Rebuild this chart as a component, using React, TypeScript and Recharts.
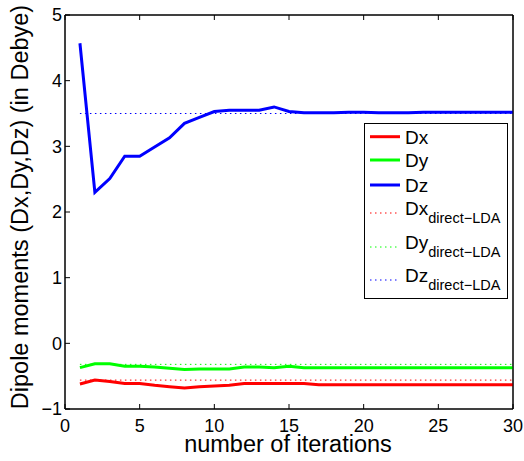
import React from "react";
import { LineChart, Line, XAxis, YAxis, Legend, ReferenceArea } from "recharts";

const iterations = [1, 2, 3, 4, 5, 6, 7, 8, 9, 10, 11, 12, 13, 14, 15, 16, 17, 18, 19, 20, 21, 22, 23, 24, 25, 26, 27, 28, 29, 30];
const dx = [-0.62, -0.56, -0.58, -0.61, -0.61, -0.64, -0.66, -0.68, -0.66, -0.65, -0.64, -0.61, -0.61, -0.61, -0.61, -0.61, -0.63, -0.63, -0.63, -0.63, -0.63, -0.63, -0.63, -0.63, -0.63, -0.63, -0.63, -0.63, -0.63, -0.63];
const dy = [-0.37, -0.31, -0.31, -0.35, -0.35, -0.36, -0.38, -0.40, -0.39, -0.39, -0.39, -0.36, -0.36, -0.37, -0.35, -0.37, -0.37, -0.37, -0.37, -0.37, -0.37, -0.37, -0.37, -0.37, -0.37, -0.37, -0.37, -0.37, -0.37, -0.37];
const dz = [4.57, 2.30, 2.51, 2.85, 2.85, 2.99, 3.13, 3.35, 3.44, 3.53, 3.55, 3.55, 3.55, 3.60, 3.53, 3.51, 3.51, 3.51, 3.52, 3.52, 3.51, 3.51, 3.51, 3.52, 3.52, 3.52, 3.52, 3.52, 3.52, 3.52];
const dxDirect = -0.56;
const dyDirect = -0.32;
const dzDirect = 3.5;

const xTicks = [0, 5, 10, 15, 20, 25, 30];
const yTicks = [-1, 0, 1, 2, 3, 4, 5];

const seriesNames = ["Dx", "Dy", "Dz"];
const colors = ["#ff0000", "#00ff00", "#0000ff"];

const data = iterations.map((it, i) => ({
  it,
  dx: dx[i],
  dy: dy[i],
  dz: dz[i],
  dxd: dxDirect,
  dyd: dyDirect,
  dzd: dzDirect,
}));

const FONT = "'Liberation Sans', Arial, Helvetica, sans-serif";

const fmtY = (v: number) => (v < 0 ? "\u2212" + Math.abs(v) : String(v));
const blank = () => "";

const LegendBox = () => {
  const solidY = [13.7, 37, 62];
  const dotY = [90, 124, 157];
  return (
    <div style={{ width: 144, height: 176, boxSizing: "border-box", border: "1px solid #000", background: "#fff", position: "relative" }}>
      <svg width={142} height={174} style={{ position: "absolute", left: 0, top: 0 }}>
        {seriesNames.map((n, i) => (
          <g key={"s" + n}>
            <line x1={5} x2={35} y1={solidY[i] - 1} y2={solidY[i] - 1} stroke={colors[i]} strokeWidth={3} />
            <text x={40} y={solidY[i] + 6} fontSize={19} fontFamily={FONT} fill="#000">
              {n}
            </text>
          </g>
        ))}
        {seriesNames.map((n, i) => (
          <g key={"d" + n}>
            <line x1={5} x2={35} y1={dotY[i] - 1} y2={dotY[i] - 1} stroke={colors[i]} strokeWidth={1} strokeDasharray="1.5 3.5" />
            <text x={40} y={dotY[i] + 1} fontSize={19} fontFamily={FONT} fill="#000">
              <tspan>{n}</tspan>
              <tspan dy={8} fontSize={14.5}>direct{"\u2212"}LDA</tspan>
            </text>
          </g>
        ))}
      </svg>
    </div>
  );
};

export default function App() {
  return (
    <div style={{ position: "absolute", left: 0, top: 0 }}>
      <LineChart width={524} height={461} data={data} margin={{ top: 14, right: 10, bottom: 0, left: 0 }}>
        <XAxis
          dataKey="it"
          type="number"
          domain={[0, 30]}
          ticks={xTicks}
          height={52}
          stroke="#000"
          tickSize={-5}
          tickMargin={15}
          tick={{ fill: "#000", fontSize: 18, fontFamily: FONT }}
          label={{
            content: () => (
              <text x={288} y={452} textAnchor="middle" fontSize={23.5} fontFamily={FONT} fill="#000">
                number of iterations
              </text>
            ),
          }}
        />
        <XAxis xAxisId="top" dataKey="it" type="number" orientation="top" domain={[0, 30]} ticks={xTicks} height={1} stroke="#000" tickSize={-5} tickFormatter={blank} />
        <YAxis
          type="number"
          domain={[-1, 5]}
          ticks={yTicks}
          width={65}
          stroke="#000"
          tickSize={-5}
          tickMargin={8}
          tickFormatter={fmtY}
          tick={{ fill: "#000", fontSize: 18, fontFamily: FONT }}
          label={{
            content: () => (
              <text transform="rotate(-90)" x={-207} y={28} textAnchor="middle" fontSize={23.5} fontFamily={FONT} fill="#000">
                Dipole moments (Dx,Dy,Dz) (in Debye)
              </text>
            ),
          }}
        />
        <YAxis yAxisId="right" type="number" orientation="right" domain={[-1, 5]} ticks={yTicks} width={1} stroke="#000" tickSize={-5} tickFormatter={blank} />
        <ReferenceArea x1={0} x2={30} y1={-1} y2={5} fill="none" fillOpacity={0} stroke="#000" strokeWidth={1} ifOverflow="visible" />
        <Line dataKey="dxd" stroke={colors[0]} strokeWidth={1} strokeDasharray="1.5 3.5" dot={false} isAnimationActive={false} />
        <Line dataKey="dyd" stroke={colors[1]} strokeWidth={1} strokeDasharray="1.5 3.5" dot={false} isAnimationActive={false} />
        <Line dataKey="dzd" stroke={colors[2]} strokeWidth={1} strokeDasharray="1.5 3.5" dot={false} isAnimationActive={false} />
        <Line dataKey="dx" stroke={colors[0]} strokeWidth={3} dot={false} isAnimationActive={false} />
        <Line dataKey="dy" stroke={colors[1]} strokeWidth={3} dot={false} isAnimationActive={false} />
        <Line dataKey="dz" stroke={colors[2]} strokeWidth={3} dot={false} isAnimationActive={false} />
        <Legend
          layout="vertical"
          align="center"
          verticalAlign="middle"
          content={() => <LegendBox />}
          wrapperStyle={{ position: "absolute", left: 364, top: 123, width: 144, height: 176, margin: 0, padding: 0 }}
        />
      </LineChart>
    </div>
  );
}
